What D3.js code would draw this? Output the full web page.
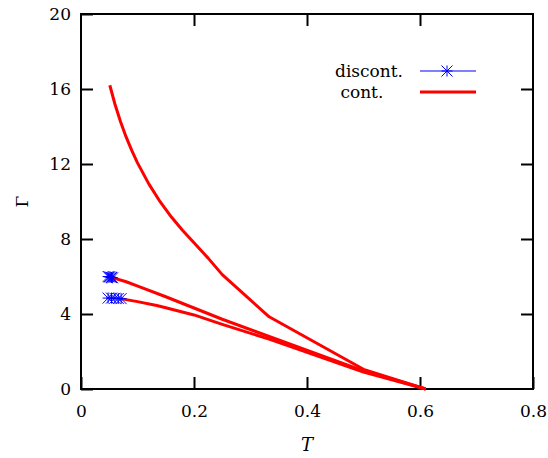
<!DOCTYPE html>
<html>
<head>
<meta charset="utf-8">
<script src="https://cdn.jsdelivr.net/npm/d3@7/dist/d3.min.js"></script>
<style>
  html, body { margin: 0; padding: 0; background: #fff; }
  svg { display: block; }
  text { font-family: "DejaVu Serif", serif; fill: #000; }
</style>
</head>
<body>
<svg id="chart" width="548" height="458"></svg>
<script>
// Tick values and labels
const xTicks = [0, 0.2, 0.4, 0.6, 0.8];
const xTickLabels = ["0", "0.2", "0.4", "0.6", "0.8"];
const yTicks = [0, 4, 8, 12, 16, 20];
const yTickLabels = ["0", "4", "8", "12", "16", "20"];

// Continuous transition lines (T, Gamma)
const contUpperT = [0.051, 0.06, 0.07, 0.08, 0.09, 0.10, 0.12, 0.14, 0.16, 0.18, 0.20, 0.225, 0.25, 0.333, 0.5, 0.61];
const contUpperG = [16.2, 15.2, 14.25, 13.43, 12.71, 12.06, 10.94, 9.99, 9.17, 8.45, 7.8, 6.98, 6.1, 3.85, 1.05, 0];

const contMiddleT = [0.057, 0.08, 0.104, 0.15, 0.20, 0.25, 0.333, 0.5, 0.61];
const contMiddleG = [5.93, 5.72, 5.45, 4.92, 4.32, 3.72, 2.8, 0.97, 0];

const contLowerT = [0.07, 0.10, 0.134, 0.15, 0.20, 0.25, 0.333, 0.5, 0.61];
const contLowerG = [4.82, 4.66, 4.45, 4.33, 3.95, 3.45, 2.66, 0.9, 0];

// Discontinuous transition points
const discUpperT = [0.048, 0.050, 0.052, 0.054, 0.056];
const discUpperG = [6.0, 5.98, 5.97, 5.95, 5.93];
const discLowerT = [0.048, 0.054, 0.060, 0.066, 0.071];
const discLowerG = [4.85, 4.85, 4.84, 4.83, 4.82];

const legendLabels = ["discont.", " cont."];

const svg = d3.select("#chart");
const plotLeft = 81, plotRight = 533, plotTop = 14, plotBottom = 389;

const x = d3.scaleLinear().domain([0, 0.8]).range([plotLeft, plotRight]);
const y = d3.scaleLinear().domain([0, 20]).range([plotBottom, plotTop]);

const zip = (a, b) => a.map((v, i) => [v, b[i]]);
const line = d3.line().x(d => x(d[0])).y(d => y(d[1]));

const tickLen = 12;
const fontSize = 17;
const fontFamily = "DejaVu Serif, serif";

// Axes with inward ticks on all four sides
const gAxes = svg.append("g");
const bottomAxis = d3.axisBottom(x).tickValues(xTicks).tickFormat((d, i) => xTickLabels[i]).tickSize(-tickLen).tickPadding(16);
const topAxis = d3.axisTop(x).tickValues(xTicks.slice(1, -1)).tickFormat("").tickSize(-tickLen);
const leftAxis = d3.axisLeft(y).tickValues(yTicks).tickFormat((d, i) => yTickLabels[i]).tickSize(-tickLen).tickPadding(10);
const rightAxis = d3.axisRight(y).tickValues(yTicks.slice(1, -1)).tickFormat("").tickSize(-tickLen);

function style(g) {
  g.attr("font-family", fontFamily).attr("font-size", fontSize);
  g.select(".domain").remove();
  g.selectAll(".tick line").attr("stroke", "#000").attr("stroke-width", 2);
  g.selectAll(".tick text").attr("fill", "#000");
}
gAxes.append("g").attr("transform", `translate(0,${plotBottom})`).call(bottomAxis).call(style);
gAxes.append("g").attr("transform", `translate(0,${plotTop})`).call(topAxis).call(style);
gAxes.append("g").attr("transform", `translate(${plotLeft},0)`).call(leftAxis).call(style);
gAxes.append("g").attr("transform", `translate(${plotRight},0)`).call(rightAxis).call(style);

// Frame
svg.append("rect")
  .attr("x", plotLeft).attr("y", plotTop)
  .attr("width", plotRight - plotLeft).attr("height", plotBottom - plotTop)
  .attr("fill", "none").attr("stroke", "#000").attr("stroke-width", 2);

// Axis titles
svg.append("text")
  .attr("x", (plotLeft + plotRight) / 2).attr("y", 451)
  .attr("text-anchor", "middle")
  .attr("font-family", fontFamily)
  .attr("font-size", fontSize + 1).attr("font-style", "italic")
  .text("T");
svg.append("text")
  .attr("transform", `translate(28,${(plotTop + plotBottom) / 2}) rotate(-90)`)
  .attr("text-anchor", "middle")
  .attr("font-family", fontFamily)
  .attr("font-size", fontSize)
  .text("Γ");

// Continuous lines
const red = "#ff0000";
[zip(contUpperT, contUpperG), zip(contMiddleT, contMiddleG), zip(contLowerT, contLowerG)].forEach(pts => {
  svg.append("path").attr("d", line(pts))
    .attr("fill", "none").attr("stroke", red).attr("stroke-width", 3)
    .attr("stroke-linejoin", "round");
});

// Asterisk marker
const blue = "#0000ff";
function star(g, cx, cy, r) {
  const p = `M${cx - r},${cy}L${cx + r},${cy}M${cx},${cy - r}L${cx},${cy + r}` +
            `M${cx - r},${cy - r}L${cx + r},${cy + r}M${cx - r},${cy + r}L${cx + r},${cy - r}`;
  g.append("path").attr("d", p).attr("stroke", blue).attr("stroke-width", 1).attr("fill", "none");
}

// Discontinuous points
[zip(discUpperT, discUpperG), zip(discLowerT, discLowerG)].forEach(pts => {
  svg.append("path").attr("d", line(pts)).attr("fill", "none").attr("stroke", blue).attr("stroke-width", 1);
  const g = svg.append("g");
  pts.forEach(d => star(g, x(d[0]), y(d[1]), 5.5));
});

// Legend
const leg = svg.append("g").attr("font-family", fontFamily).attr("font-size", fontSize);
leg.append("text").attr("x", 335).attr("y", 77)
  .style("white-space", "pre").text(legendLabels[0]);
leg.append("line").attr("x1", 420).attr("x2", 476).attr("y1", 71).attr("y2", 71)
  .attr("stroke", blue).attr("stroke-width", 1);
star(leg, 447, 71, 5.5);
leg.append("text").attr("x", 335).attr("y", 98)
  .style("white-space", "pre").text(legendLabels[1]);
leg.append("line").attr("x1", 420).attr("x2", 476).attr("y1", 92).attr("y2", 92)
  .attr("stroke", red).attr("stroke-width", 3);
</script>
</body>
</html>
